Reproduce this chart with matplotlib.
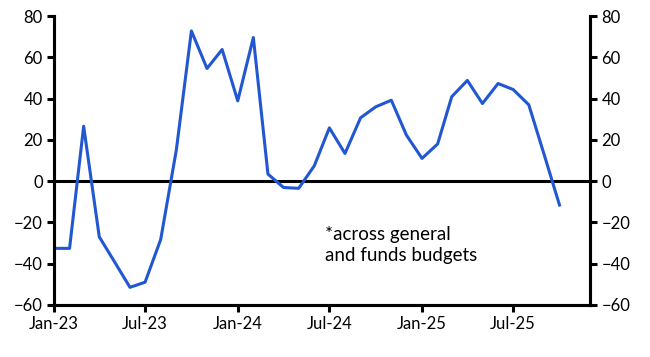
import numpy as np
import pandas as pd
import matplotlib
matplotlib.use('Agg')
import matplotlib.pyplot as plt
import matplotlib.dates as mdates

# Данные (ежемесячно, Jan-23 .. Oct-25)
months = pd.date_range('2023-01-01', periods=34, freq='MS')
values = [-32.6, -32.6, 26.6, -27.0, -39.0, -51.5, -49.0, -28.3, 15.0, 72.8,
          54.6, 63.8, 38.9, 69.6, 3.4, -3.1, -3.5, 7.4, 25.8, 13.4,
          30.7, 36.0, 39.2, 22.3, 11.0, 18.0, 40.9, 48.8, 37.6, 47.3,
          44.4, 37.0, 12.5, -11.6]
tick_dates = pd.to_datetime(['2023-01-01', '2023-07-01', '2024-01-01',
                             '2024-07-01', '2025-01-01', '2025-07-01'])
yticks = [-60, -40, -20, 0, 20, 40, 60, 80]
note = '*across general\nand funds budgets'

plt.rcParams['font.family'] = ['Lato', 'DejaVu Sans']

fig = plt.figure(figsize=(6.5, 3.57), dpi=100)
ax = fig.add_axes([0.083, 0.146, 0.825, 0.809])

ax.plot(months, values, color='#2157d1', lw=2.2, zorder=3)
ax.axhline(0, color='black', lw=2.2, zorder=2)

ax.set_xlim(pd.Timestamp('2023-01-01'), pd.Timestamp('2025-12-01'))
ax.set_ylim(-60, 80)
ax.set_yticks(yticks)
ax.set_xticks(tick_dates)
ax.xaxis.set_major_formatter(mdates.DateFormatter('%b-%y'))

ax2 = ax.twinx()
ax2.set_ylim(-60, 80)
ax2.set_yticks(yticks)

for a in (ax, ax2):
    a.spines['top'].set_visible(False)
    for s in ('left', 'right', 'bottom'):
        a.spines[s].set_linewidth(2.2)
    a.tick_params(axis='both', direction='out', length=5, width=2.2,
                  labelsize=12, pad=3)

ax.text(0.505, 0.208, note, transform=ax.transAxes, fontsize=13.5,
        va='center', ha='left', linespacing=1.25)

fig.savefig('out.png', dpi=100)
